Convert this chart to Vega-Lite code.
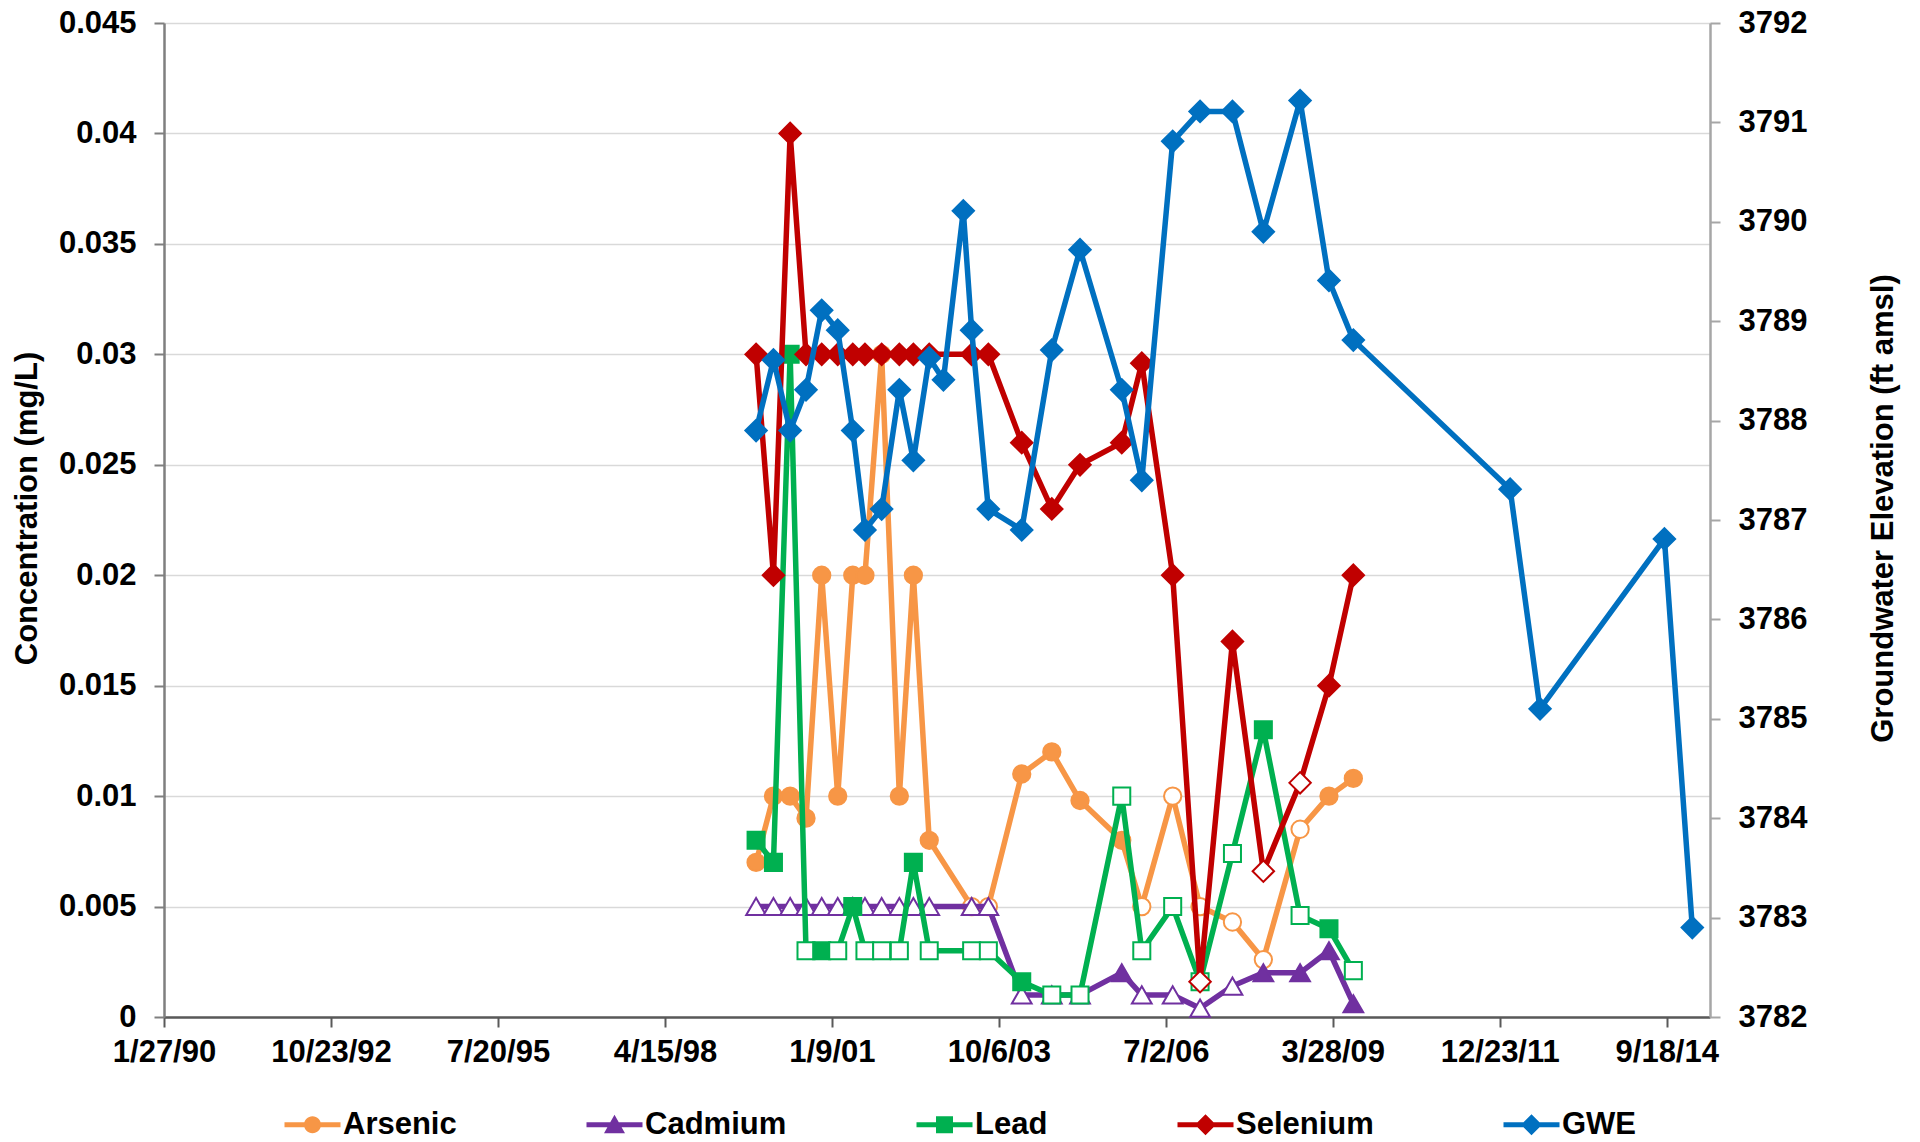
{
"$schema": "https://vega.github.io/schema/vega-lite/v6.json",
"width": 1546,
"height": 994,
"autosize": {"type": "none"},
"padding": {"left": 164, "top": 23, "right": 210, "bottom": 125},
"background": "white",
"config": {"view": {"stroke": null}, "font": "Liberation Sans"},
"data": {"values": [
{"date":"1999-10-13","series":"Arsenic","value":0.007,"detect":1},
{"date":"2000-01-25","series":"Arsenic","value":0.01,"detect":1},
{"date":"2000-05-04","series":"Arsenic","value":0.01,"detect":1},
{"date":"2000-08-07","series":"Arsenic","value":0.009,"detect":1},
{"date":"2000-11-09","series":"Arsenic","value":0.02,"detect":1},
{"date":"2001-02-13","series":"Arsenic","value":0.01,"detect":1},
{"date":"2001-05-14","series":"Arsenic","value":0.02,"detect":1},
{"date":"2001-07-26","series":"Arsenic","value":0.02,"detect":1},
{"date":"2001-11-03","series":"Arsenic","value":0.03,"detect":1},
{"date":"2002-02-17","series":"Arsenic","value":0.01,"detect":1},
{"date":"2002-05-12","series":"Arsenic","value":0.02,"detect":1},
{"date":"2002-08-15","series":"Arsenic","value":0.008,"detect":1},
{"date":"2003-04-26","series":"Arsenic","value":0.005,"detect":0},
{"date":"2003-08-04","series":"Arsenic","value":0.005,"detect":0},
{"date":"2004-02-20","series":"Arsenic","value":0.011,"detect":1},
{"date":"2004-08-18","series":"Arsenic","value":0.012,"detect":1},
{"date":"2005-02-03","series":"Arsenic","value":0.0098,"detect":1},
{"date":"2005-10-11","series":"Arsenic","value":0.008,"detect":1},
{"date":"2006-02-08","series":"Arsenic","value":0.005,"detect":0},
{"date":"2006-08-12","series":"Arsenic","value":0.01,"detect":0},
{"date":"2007-01-23","series":"Arsenic","value":0.005,"detect":0},
{"date":"2007-08-05","series":"Arsenic","value":0.0043,"detect":0},
{"date":"2008-02-06","series":"Arsenic","value":0.0026,"detect":0},
{"date":"2008-09-13","series":"Arsenic","value":0.0085,"detect":0},
{"date":"2009-03-05","series":"Arsenic","value":0.01,"detect":1},
{"date":"2009-07-29","series":"Arsenic","value":0.0108,"detect":1},
{"date":"1999-10-13","series":"Cadmium","value":0.005,"detect":0},
{"date":"2000-01-25","series":"Cadmium","value":0.005,"detect":0},
{"date":"2000-05-04","series":"Cadmium","value":0.005,"detect":0},
{"date":"2000-08-07","series":"Cadmium","value":0.005,"detect":0},
{"date":"2000-11-09","series":"Cadmium","value":0.005,"detect":0},
{"date":"2001-02-13","series":"Cadmium","value":0.005,"detect":0},
{"date":"2001-05-14","series":"Cadmium","value":0.005,"detect":0},
{"date":"2001-07-26","series":"Cadmium","value":0.005,"detect":0},
{"date":"2001-11-03","series":"Cadmium","value":0.005,"detect":0},
{"date":"2002-02-17","series":"Cadmium","value":0.005,"detect":0},
{"date":"2002-05-12","series":"Cadmium","value":0.005,"detect":0},
{"date":"2002-08-15","series":"Cadmium","value":0.005,"detect":0},
{"date":"2003-04-26","series":"Cadmium","value":0.005,"detect":0},
{"date":"2003-08-04","series":"Cadmium","value":0.005,"detect":0},
{"date":"2004-02-20","series":"Cadmium","value":0.001,"detect":0},
{"date":"2004-08-18","series":"Cadmium","value":0.001,"detect":0},
{"date":"2005-02-03","series":"Cadmium","value":0.001,"detect":0},
{"date":"2005-10-11","series":"Cadmium","value":0.002,"detect":1},
{"date":"2006-02-08","series":"Cadmium","value":0.001,"detect":0},
{"date":"2006-08-12","series":"Cadmium","value":0.001,"detect":0},
{"date":"2007-01-23","series":"Cadmium","value":0.0004,"detect":0},
{"date":"2007-08-05","series":"Cadmium","value":0.0014,"detect":0},
{"date":"2008-02-06","series":"Cadmium","value":0.002,"detect":1},
{"date":"2008-09-13","series":"Cadmium","value":0.002,"detect":1},
{"date":"2009-03-05","series":"Cadmium","value":0.003,"detect":1},
{"date":"2009-07-29","series":"Cadmium","value":0.0006,"detect":1},
{"date":"1999-10-13","series":"Lead","value":0.008,"detect":1},
{"date":"2000-01-25","series":"Lead","value":0.007,"detect":1},
{"date":"2000-05-04","series":"Lead","value":0.03,"detect":1},
{"date":"2000-08-07","series":"Lead","value":0.003,"detect":0},
{"date":"2000-11-09","series":"Lead","value":0.003,"detect":1},
{"date":"2001-02-13","series":"Lead","value":0.003,"detect":0},
{"date":"2001-05-14","series":"Lead","value":0.005,"detect":1},
{"date":"2001-07-26","series":"Lead","value":0.003,"detect":0},
{"date":"2001-11-03","series":"Lead","value":0.003,"detect":0},
{"date":"2002-02-17","series":"Lead","value":0.003,"detect":0},
{"date":"2002-05-12","series":"Lead","value":0.007,"detect":1},
{"date":"2002-08-15","series":"Lead","value":0.003,"detect":0},
{"date":"2003-04-26","series":"Lead","value":0.003,"detect":0},
{"date":"2003-08-04","series":"Lead","value":0.003,"detect":0},
{"date":"2004-02-20","series":"Lead","value":0.0016,"detect":1},
{"date":"2004-08-18","series":"Lead","value":0.001,"detect":0},
{"date":"2005-02-03","series":"Lead","value":0.001,"detect":0},
{"date":"2005-10-11","series":"Lead","value":0.01,"detect":0},
{"date":"2006-02-08","series":"Lead","value":0.003,"detect":0},
{"date":"2006-08-12","series":"Lead","value":0.005,"detect":0},
{"date":"2007-01-23","series":"Lead","value":0.0016,"detect":0},
{"date":"2007-08-05","series":"Lead","value":0.0074,"detect":0},
{"date":"2008-02-06","series":"Lead","value":0.013,"detect":1},
{"date":"2008-09-13","series":"Lead","value":0.0046,"detect":0},
{"date":"2009-03-05","series":"Lead","value":0.004,"detect":1},
{"date":"2009-07-29","series":"Lead","value":0.0021,"detect":0},
{"date":"1999-10-13","series":"Selenium","value":0.03,"detect":1},
{"date":"2000-01-25","series":"Selenium","value":0.02,"detect":1},
{"date":"2000-05-04","series":"Selenium","value":0.04,"detect":1},
{"date":"2000-08-07","series":"Selenium","value":0.03,"detect":1},
{"date":"2000-11-09","series":"Selenium","value":0.03,"detect":1},
{"date":"2001-02-13","series":"Selenium","value":0.03,"detect":1},
{"date":"2001-05-14","series":"Selenium","value":0.03,"detect":1},
{"date":"2001-07-26","series":"Selenium","value":0.03,"detect":1},
{"date":"2001-11-03","series":"Selenium","value":0.03,"detect":1},
{"date":"2002-02-17","series":"Selenium","value":0.03,"detect":1},
{"date":"2002-05-12","series":"Selenium","value":0.03,"detect":1},
{"date":"2002-08-15","series":"Selenium","value":0.03,"detect":1},
{"date":"2003-04-26","series":"Selenium","value":0.03,"detect":1},
{"date":"2003-08-04","series":"Selenium","value":0.03,"detect":1},
{"date":"2004-02-20","series":"Selenium","value":0.026,"detect":1},
{"date":"2004-08-18","series":"Selenium","value":0.023,"detect":1},
{"date":"2005-02-03","series":"Selenium","value":0.025,"detect":1},
{"date":"2005-10-11","series":"Selenium","value":0.026,"detect":1},
{"date":"2006-02-08","series":"Selenium","value":0.0296,"detect":1},
{"date":"2006-08-12","series":"Selenium","value":0.02,"detect":1},
{"date":"2007-01-23","series":"Selenium","value":0.0016,"detect":0},
{"date":"2007-08-05","series":"Selenium","value":0.017,"detect":1},
{"date":"2008-02-06","series":"Selenium","value":0.0066,"detect":0},
{"date":"2008-09-13","series":"Selenium","value":0.0106,"detect":0},
{"date":"2009-03-05","series":"Selenium","value":0.015,"detect":1},
{"date":"2009-07-29","series":"Selenium","value":0.02,"detect":1},
{"date":"1999-10-13","series":"GWE","value":3787.9,"detect":1},
{"date":"2000-01-25","series":"GWE","value":3788.61,"detect":1},
{"date":"2000-05-04","series":"GWE","value":3787.9,"detect":1},
{"date":"2000-08-07","series":"GWE","value":3788.31,"detect":1},
{"date":"2000-11-09","series":"GWE","value":3789.11,"detect":1},
{"date":"2001-02-13","series":"GWE","value":3788.91,"detect":1},
{"date":"2001-05-14","series":"GWE","value":3787.9,"detect":1},
{"date":"2001-07-26","series":"GWE","value":3786.9,"detect":1},
{"date":"2001-11-03","series":"GWE","value":3787.11,"detect":1},
{"date":"2002-02-17","series":"GWE","value":3788.31,"detect":1},
{"date":"2002-05-12","series":"GWE","value":3787.6,"detect":1},
{"date":"2002-08-15","series":"GWE","value":3788.63,"detect":1},
{"date":"2002-11-08","series":"GWE","value":3788.41,"detect":1},
{"date":"2003-03-07","series":"GWE","value":3790.11,"detect":1},
{"date":"2003-04-26","series":"GWE","value":3788.91,"detect":1},
{"date":"2003-08-04","series":"GWE","value":3787.11,"detect":1},
{"date":"2004-02-20","series":"GWE","value":3786.9,"detect":1},
{"date":"2004-08-18","series":"GWE","value":3788.71,"detect":1},
{"date":"2005-02-03","series":"GWE","value":3789.72,"detect":1},
{"date":"2005-10-11","series":"GWE","value":3788.31,"detect":1},
{"date":"2006-02-08","series":"GWE","value":3787.4,"detect":1},
{"date":"2006-08-12","series":"GWE","value":3790.81,"detect":1},
{"date":"2007-01-23","series":"GWE","value":3791.11,"detect":1},
{"date":"2007-08-05","series":"GWE","value":3791.11,"detect":1},
{"date":"2008-02-06","series":"GWE","value":3789.9,"detect":1},
{"date":"2008-09-13","series":"GWE","value":3791.22,"detect":1},
{"date":"2009-03-05","series":"GWE","value":3789.41,"detect":1},
{"date":"2009-07-29","series":"GWE","value":3788.81,"detect":1},
{"date":"2012-02-23","series":"GWE","value":3787.31,"detect":1},
{"date":"2012-08-20","series":"GWE","value":3785.1,"detect":1},
{"date":"2014-09-04","series":"GWE","value":3786.81,"detect":1},
{"date":"2015-02-18","series":"GWE","value":3782.9,"detect":1}
]},
"encoding": {
  "x": {"field": "date", "type": "temporal",
    "scale": {"domain": [{"year":1990,"month":1,"date":27},{"year":2015,"month":6,"date":4}]},
    "axis": {"title": null, "values": [
      {"year":1990,"month":1,"date":27},{"year":1992,"month":10,"date":23},{"year":1995,"month":7,"date":20},
      {"year":1998,"month":4,"date":15},{"year":2001,"month":1,"date":9},{"year":2003,"month":10,"date":6},
      {"year":2006,"month":7,"date":2},{"year":2009,"month":3,"date":28},{"year":2011,"month":12,"date":23},
      {"year":2014,"month":9,"date":18}],
      "format": "%-m/%-d/%y", "labelFont": "Liberation Sans", "labelFontSize": 31, "labelFontWeight": "bold",
      "labelColor": "black", "labelPadding": 10, "tickSize": 10, "tickWidth": 2, "tickColor": "#595959",
      "domainColor": "#595959", "domainWidth": 2.5, "grid": false, "labelFlush": false, "labelOverlap": false}}
},
"layer": [
  {
    "encoding": {"y": {"field": "value", "type": "quantitative",
      "scale": {"domain": [0, 0.045], "nice": false, "zero": true},
      "axis": {"orient": "left", "title": "Concentration (mg/L)",
        "values": [0,0.005,0.01,0.015,0.02,0.025,0.03,0.035,0.04,0.045], "format": "~f",
        "titleFont": "Liberation Sans", "titleFontSize": 31, "titleFontWeight": "bold", "titleColor": "black", "titlePadding": 15, "titleY": 485,
        "labelFont": "Liberation Sans", "labelFontSize": 31, "labelFontWeight": "bold", "labelColor": "black", "labelPadding": 18,
        "tickSize": 10, "tickWidth": 2, "tickColor": "#7F7F7F", "domainColor": "#7F7F7F", "domainWidth": 2.5,
        "grid": true, "gridColor": "#D9D9D9", "gridWidth": 1.5, "labelFlush": false, "labelOverlap": false}}},
    "layer": [
      {"transform": [{"filter": "datum.series == 'Arsenic'"}],
       "mark": {"type": "line", "color": "#F79646", "strokeWidth": 5.5, "strokeJoin": "round"}, "encoding": {}},
      {"transform": [{"filter": "datum.series == 'Arsenic'"}],
       "mark": {"type": "point", "shape": "circle", "size": 300, "strokeWidth": 2, "opacity": 1},
       "encoding": {"stroke": {"value": "#F79646"}, "fill": {"condition": {"test": "datum.detect == 1", "value": "#F79646"}, "value": "white"}}},
      {"transform": [{"filter": "datum.series == 'Cadmium'"}],
       "mark": {"type": "line", "color": "#7030A0", "strokeWidth": 5.5, "strokeJoin": "round"}, "encoding": {}},
      {"transform": [{"filter": "datum.series == 'Cadmium'"}],
       "mark": {"type": "point", "shape": "triangle-up", "size": 390, "strokeWidth": 2, "opacity": 1},
       "encoding": {"stroke": {"value": "#7030A0"}, "fill": {"condition": {"test": "datum.detect == 1", "value": "#7030A0"}, "value": "white"}}},
      {"transform": [{"filter": "datum.series == 'Lead'"}],
       "mark": {"type": "line", "color": "#00B050", "strokeWidth": 5.5, "strokeJoin": "round"}, "encoding": {}},
      {"transform": [{"filter": "datum.series == 'Lead'"}],
       "mark": {"type": "point", "shape": "square", "size": 290, "strokeWidth": 2, "opacity": 1},
       "encoding": {"stroke": {"value": "#00B050"}, "fill": {"condition": {"test": "datum.detect == 1", "value": "#00B050"}, "value": "white"}}},
      {"transform": [{"filter": "datum.series == 'Selenium'"}],
       "mark": {"type": "line", "color": "#C00000", "strokeWidth": 5.5, "strokeJoin": "round"}, "encoding": {}},
      {"transform": [{"filter": "datum.series == 'Selenium'"}],
       "mark": {"type": "point", "shape": "diamond", "size": 460, "strokeWidth": 2, "opacity": 1},
       "encoding": {"stroke": {"value": "#C00000"}, "fill": {"condition": {"test": "datum.detect == 1", "value": "#C00000"}, "value": "white"}}},
      {"transform": [{"filter": "datum.series == 'none'"}],
       "mark": {"type": "point", "filled": true, "opacity": 1, "strokeWidth": 0},
       "encoding": {
         "color": {"field": "series", "type": "nominal",
           "scale": {"domain": ["Arsenic","Cadmium","Lead","Selenium","GWE"], "range": ["#F79646","#7030A0","#00B050","#C00000","#0070C0"]},
           "legend": {"orient": "none", "legendX": 133, "legendY": 1086, "direction": "horizontal", "columns": 5, "title": null,
             "labelFont": "Liberation Sans", "labelFontSize": 31, "labelFontWeight": "bold", "labelColor": "black",
             "symbolSize": 400, "symbolStrokeWidth": 0, "symbolOpacity": 1, "columnPadding": 129, "labelOffset": 15, "padding": 0, "labelLimit": 0}},
         "shape": {"field": "series", "type": "nominal",
           "scale": {"domain": ["Arsenic","Cadmium","Lead","Selenium","GWE"], "range": [
             "M-2.8,-0.25H2.8V0.25H-2.8Z M0.85,0A0.85,0.85,0,1,1,-0.85,0A0.85,0.85,0,1,1,0.85,0Z",
             "M-2.8,-0.25H2.8V0.25H-2.8Z M0,-1L1.05,0.85L-1.05,0.85Z",
             "M-2.8,-0.25H2.8V0.25H-2.8Z M-0.85,-0.85H0.85V0.85H-0.85Z",
             "M-2.8,-0.25H2.8V0.25H-2.8Z M0,-1.05L1.05,0L0,1.05L-1.05,0Z",
             "M-2.8,-0.25H2.8V0.25H-2.8Z M0,-1.05L1.05,0L0,1.05L-1.05,0Z"]},
           "legend": {"orient": "none", "legendX": 133, "legendY": 1086, "direction": "horizontal", "columns": 5, "title": null,
             "labelFont": "Liberation Sans", "labelFontSize": 31, "labelFontWeight": "bold", "labelColor": "black",
             "symbolSize": 400, "symbolStrokeWidth": 0, "symbolOpacity": 1, "columnPadding": 129, "labelOffset": 15, "padding": 0, "labelLimit": 0}}
       }}
    ]
  },
  {
    "encoding": {"y": {"field": "value", "type": "quantitative",
      "scale": {"domain": [3782, 3792], "nice": false, "zero": false},
      "axis": {"orient": "right", "title": "Groundwater Elevation (ft amsl)",
        "values": [3782,3783,3784,3785,3786,3787,3788,3789,3790,3791,3792], "format": "d",
        "titleFont": "Liberation Sans", "titleFontSize": 31, "titleFontWeight": "bold", "titleColor": "black",
        "titleAngle": 270, "titleBaseline": "top", "titlePadding": 62, "titleY": 485,
        "labelFont": "Liberation Sans", "labelFontSize": 31, "labelFontWeight": "bold", "labelColor": "black", "labelPadding": 18,
        "tickSize": 10, "tickWidth": 2, "tickColor": "#A6A6A6", "domainColor": "#A6A6A6", "domainWidth": 2.5,
        "grid": false, "labelFlush": false, "labelOverlap": false}}},
    "layer": [
      {"transform": [{"filter": "datum.series == 'GWE'"}],
       "mark": {"type": "line", "color": "#0070C0", "strokeWidth": 5.5, "strokeJoin": "round"}, "encoding": {}},
      {"transform": [{"filter": "datum.series == 'GWE'"}],
       "mark": {"type": "point", "shape": "diamond", "size": 460, "strokeWidth": 2, "filled": true, "color": "#0070C0", "stroke": "#0070C0", "opacity": 1},
       "encoding": {}}
    ]
  }
],
"resolve": {"scale": {"y": "independent"}}
}
